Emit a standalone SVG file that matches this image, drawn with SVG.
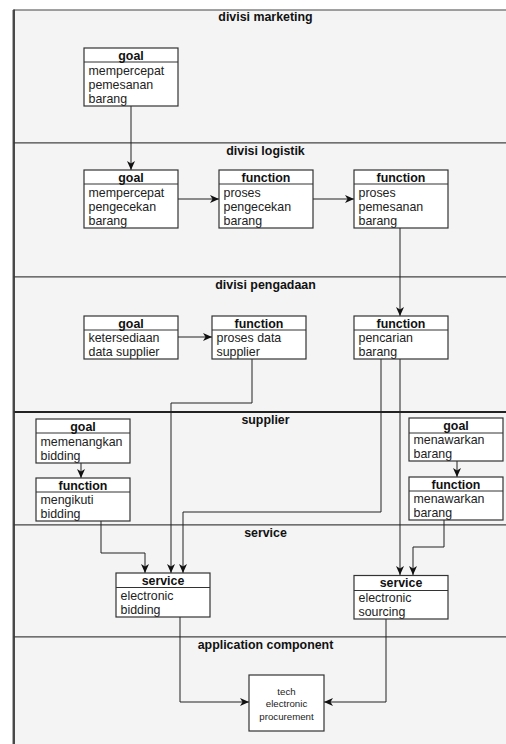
<svg xmlns="http://www.w3.org/2000/svg" width="506" height="744" viewBox="0 0 506 744">
<defs>
<marker id="arr" markerUnits="userSpaceOnUse" markerWidth="10" markerHeight="8" refX="9" refY="4" orient="auto">
<path d="M0,0 L9,4 L0,8 L2.5,4 Z" fill="#111"/>
</marker>
<style>
.lane{fill:#f4f4f4;stroke:#444;stroke-width:1}
.lt{font-family:"Liberation Sans",Arial,sans-serif;font-size:12.4px;font-weight:bold;fill:#111;text-anchor:middle}
.box{fill:#fff;stroke:#333;stroke-width:1.2}
.div{stroke:#333;stroke-width:1}
.hd{font-family:"Liberation Sans",Arial,sans-serif;font-size:12.4px;font-weight:bold;fill:#111;text-anchor:middle}
.tx{font-family:"Liberation Sans",Arial,sans-serif;font-size:12.4px;fill:#222}
.tc{font-family:"Liberation Sans",Arial,sans-serif;font-size:9.7px;fill:#222;text-anchor:middle}
.con{fill:none;stroke:#222;stroke-width:1;marker-end:url(#arr)}
</style>
</defs>
<rect x="0" y="0" width="506" height="744" fill="#fff"/>
<g id="lanes">
<rect class="lane" x="14" y="10" width="510" height="133"/>
<rect class="lane" x="14" y="143" width="510" height="134"/>
<rect class="lane" x="14" y="277" width="510" height="135"/>
<rect class="lane" x="14" y="412" width="510" height="113"/>
<rect class="lane" x="14" y="525" width="510" height="112"/>
<rect class="lane" x="14" y="637" width="510" height="120"/>
<line x1="14" y1="412" x2="506" y2="412" stroke="#222" stroke-width="2"/>
<line x1="12.5" y1="10" x2="12.5" y2="744" stroke="#aaa" stroke-width="1"/>
<line x1="14" y1="9.5" x2="14" y2="744" stroke="#333" stroke-width="1.6"/>
<text class="lt" x="265.5" y="21">divisi marketing</text>
<text class="lt" x="265.5" y="155">divisi logistik</text>
<text class="lt" x="265.5" y="289">divisi pengadaan</text>
<text class="lt" x="265.5" y="424">supplier</text>
<text class="lt" x="265.5" y="537">service</text>
<text class="lt" x="265.5" y="649">application component</text>
</g>
<g id="connectors">
<path class="con" d="M131,106 L131,170"/>
<path class="con" d="M178,199 L219,199"/>
<path class="con" d="M313,199 L354,199"/>
<path class="con" d="M400,228 L400,316"/>
<path class="con" d="M178,337 L212,337"/>
<path class="con" d="M252,359 L252,403 L171,403 L171,573"/>
<path class="con" d="M381,359 L381,512 L183,512 L183,573"/>
<path class="con" d="M400,359 L400,575"/>
<path class="con" d="M81,463 L81,478"/>
<path class="con" d="M101,521 L101,553 L145,553 L145,573"/>
<path class="con" d="M457,461 L457,477"/>
<path class="con" d="M444,520 L444,547 L413,547 L413,575"/>
<path class="con" d="M180,617 L180,702 L249,702"/>
<path class="con" d="M386,619 L386,702 L324,702"/>
</g>
<g id="goal-marketing">
<rect class="box" x="84" y="48" width="94" height="58"/>
<line class="div" x1="84" y1="62" x2="178" y2="62"/>
<text class="hd" x="131" y="59.5">goal</text>
<text class="tx" x="88.5" y="74.5">mempercepat</text>
<text class="tx" x="88.5" y="88.5">pemesanan</text>
<text class="tx" x="88.5" y="102.5">barang</text>
</g>
<g id="goal-logistik">
<rect class="box" x="84" y="170" width="94" height="58"/>
<line class="div" x1="84" y1="184" x2="178" y2="184"/>
<text class="hd" x="131" y="181.5">goal</text>
<text class="tx" x="88.5" y="196.5">mempercepat</text>
<text class="tx" x="88.5" y="210.5">pengecekan</text>
<text class="tx" x="88.5" y="224.5">barang</text>
</g>
<g id="fn-pengecekan">
<rect class="box" x="219" y="170" width="94" height="58"/>
<line class="div" x1="219" y1="184" x2="313" y2="184"/>
<text class="hd" x="266" y="181.5">function</text>
<text class="tx" x="223.5" y="196.5">proses</text>
<text class="tx" x="223.5" y="210.5">pengecekan</text>
<text class="tx" x="223.5" y="224.5">barang</text>
</g>
<g id="fn-pemesanan">
<rect class="box" x="354" y="170" width="94" height="58"/>
<line class="div" x1="354" y1="184" x2="448" y2="184"/>
<text class="hd" x="401" y="181.5">function</text>
<text class="tx" x="358.5" y="196.5">proses</text>
<text class="tx" x="358.5" y="210.5">pemesanan</text>
<text class="tx" x="358.5" y="224.5">barang</text>
</g>
<g id="goal-pengadaan">
<rect class="box" x="84" y="316" width="94" height="43"/>
<line class="div" x1="84" y1="330" x2="178" y2="330"/>
<text class="hd" x="131" y="327.5">goal</text>
<text class="tx" x="88.5" y="342">ketersediaan</text>
<text class="tx" x="88.5" y="356">data supplier</text>
</g>
<g id="fn-data-supplier">
<rect class="box" x="212" y="316" width="94" height="43"/>
<line class="div" x1="212" y1="330" x2="306" y2="330"/>
<text class="hd" x="259" y="327.5">function</text>
<text class="tx" x="216.5" y="342">proses data</text>
<text class="tx" x="216.5" y="356">supplier</text>
</g>
<g id="fn-pencarian">
<rect class="box" x="354" y="316" width="94" height="43"/>
<line class="div" x1="354" y1="330" x2="448" y2="330"/>
<text class="hd" x="401" y="327.5">function</text>
<text class="tx" x="358.5" y="342">pencarian</text>
<text class="tx" x="358.5" y="356">barang</text>
</g>
<g id="goal-bidding">
<rect class="box" x="36" y="419" width="94" height="44"/>
<line class="div" x1="36" y1="433" x2="130" y2="433"/>
<text class="hd" x="83" y="430.5">goal</text>
<text class="tx" x="40.5" y="445.5">memenangkan</text>
<text class="tx" x="40.5" y="459.5">bidding</text>
</g>
<g id="fn-bidding">
<rect class="box" x="36" y="478" width="94" height="43"/>
<line class="div" x1="36" y1="492" x2="130" y2="492"/>
<text class="hd" x="83" y="489.5">function</text>
<text class="tx" x="40.5" y="504">mengikuti</text>
<text class="tx" x="40.5" y="518">bidding</text>
</g>
<g id="goal-menawarkan">
<rect class="box" x="409" y="418" width="94" height="43"/>
<line class="div" x1="409" y1="433" x2="503" y2="433"/>
<text class="hd" x="456" y="429.5">goal</text>
<text class="tx" x="413.5" y="444">menawarkan</text>
<text class="tx" x="413.5" y="458">barang</text>
</g>
<g id="fn-menawarkan">
<rect class="box" x="409" y="477" width="94" height="43"/>
<line class="div" x1="409" y1="491" x2="503" y2="491"/>
<text class="hd" x="456" y="488.5">function</text>
<text class="tx" x="413.5" y="503">menawarkan</text>
<text class="tx" x="413.5" y="517">barang</text>
</g>
<g id="svc-bidding">
<rect class="box" x="116" y="573" width="94" height="44"/>
<line class="div" x1="116" y1="587.5" x2="210" y2="587.5"/>
<text class="hd" x="163" y="584.5">service</text>
<text class="tx" x="120.5" y="599.5">electronic</text>
<text class="tx" x="120.5" y="613.5">bidding</text>
</g>
<g id="svc-sourcing">
<rect class="box" x="354" y="575.5" width="94" height="43.5"/>
<line class="div" x1="354" y1="590.5" x2="448" y2="590.5"/>
<text class="hd" x="401" y="587">service</text>
<text class="tx" x="358.5" y="602">electronic</text>
<text class="tx" x="358.5" y="616">sourcing</text>
</g>
<g id="tech-procurement">
<rect class="box" x="249" y="675" width="75" height="56"/>
<text class="tc" x="286.5" y="694.5">tech</text>
<text class="tc" x="286.5" y="707">electronic</text>
<text class="tc" x="286.5" y="719.5">procurement</text>
</g>
</svg>
